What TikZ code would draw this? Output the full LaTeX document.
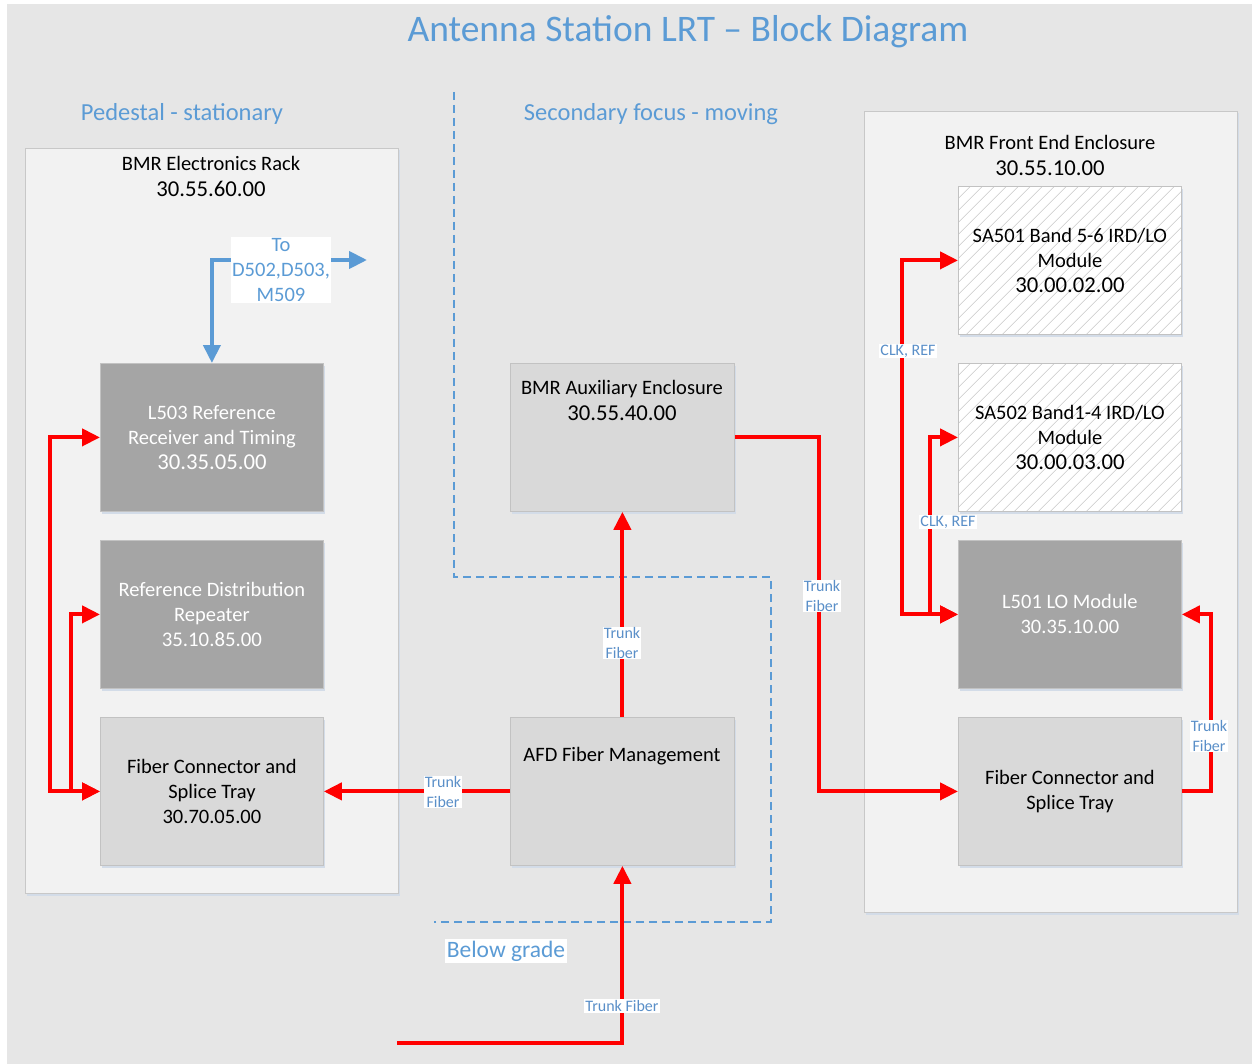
\documentclass[tikz,border=0pt]{standalone}
\usepackage{fontspec}
\setmainfont{Carlito}
\usetikzlibrary{arrows.meta,shadows}
\definecolor{bgc}{HTML}{E6E6E6}
\definecolor{contc}{HTML}{F2F2F2}
\definecolor{contb}{HTML}{C8C8C8}
\definecolor{darkc}{HTML}{A5A5A5}
\definecolor{lightc}{HTML}{D9D9D9}
\definecolor{boxb}{HTML}{C2C2C2}
\definecolor{shc}{HTML}{D3DCE8}
\definecolor{bluec}{HTML}{5B9BD5}
\definecolor{lblc}{HTML}{5A8FC8}
\definecolor{hatchc}{HTML}{C8C8C8}
\begin{document}
\begin{tikzpicture}[x=1pt,y=-1pt,
  shad/.style={drop shadow={shadow xshift=2pt,shadow yshift=-2.5pt,fill=shc,opacity=1}},
  container/.style={draw=contb,line width=0.8pt,fill=contc,shad},
  blockbox/.style={draw=boxb,line width=0.8pt,minimum width=223pt,minimum height=148pt,anchor=north west,inner sep=0pt,align=center,font=\fontsize{20.5}{25}\selectfont,shad},
  darkbox/.style={blockbox,fill=darkc,text=white},
  lightbox/.style={blockbox,fill=lightc,text=black},
  hatchbox/.style={blockbox,fill=white,text=black,path picture={
      \foreach \d in {-160,-148,...,240}
        \draw[hatchc,line width=0.6pt] ([xshift=\d pt]path picture bounding box.south west) -- ++(160pt,160pt);}},
  rline/.style={draw=red,line width=4pt},
  rarrow/.style={rline,-{Triangle[length=18pt,width=17pt]}},
  rboth/.style={rline,{Triangle[length=18pt,width=17pt]}-{Triangle[length=18pt,width=17pt]}},
  bboth/.style={draw=bluec,line width=4pt,{Triangle[length=18pt,width=17pt]}-{Triangle[length=18pt,width=17pt]}},
  region/.style={draw=bluec,line width=2pt,dash pattern=on 8pt off 5pt},
  lbl/.style={fill=white,text=lblc,inner sep=1pt,align=center,font=\fontsize{16}{19.5}\selectfont},
  heading/.style={text=bluec,inner sep=0pt,font=\fontsize{24.5}{30}\selectfont},
  ctitle/.style={align=center,inner sep=0pt,font=\fontsize{20.5}{26}\selectfont}
]
\useasboundingbox (0,0) rectangle (1252,1064);
\fill[bgc] (7,4) rectangle (1252,1064);

% headings
\node[heading,font=\fontsize{37.5}{42}\selectfont] (title) at (688,32) {Antenna Station LRT – Block Diagram};
\node[heading] (ped) at (182,114) {Pedestal - stationary};
\node[heading] (sec) at (651,114) {Secondary focus - moving};

% region boundary
\draw[region] (454,92) -- (454,577) -- (771,577) -- (771,922) -- (434,922);
\node[heading,fill=white,inner sep=2pt,font=\fontsize{23.5}{28}\selectfont] (below) at (506,951) {Below grade};

% containers
\path[container] (25,148) rectangle (398,893);
\path[container] (864,111) rectangle (1237,912);
\node[ctitle] (rackt) at (211,176) {BMR Electronics Rack\\{\fontsize{22.7}{26}\selectfont 30.55.60.00}};
\node[ctitle] (fet) at (1050,155) {BMR Front End Enclosure\\{\fontsize{22.7}{26}\selectfont 30.55.10.00}};

% blocks
\node[darkbox] (l503) at (100,363) {L503 Reference\\Receiver and Timing\\{\fontsize{22.7}{25}\selectfont 30.35.05.00}};
\node[darkbox] (refd) at (100,540) {Reference Distribution\\Repeater\\{\fontsize{20.8}{25}\selectfont 35.10.85.00}};
\node[lightbox] (fibL) at (100,717) {Fiber Connector and\\Splice Tray\\30.70.05.00};
\node[lightbox,minimum width=224pt] (aux) at (510,363) {};
\node[ctitle,font=\fontsize{20.5}{26}\selectfont] (auxt) at (622,400) {BMR Auxiliary Enclosure\\{\fontsize{22.7}{26}\selectfont 30.55.40.00}};
\node[lightbox,minimum width=224pt] (afd) at (510,717) {};
\node[ctitle] (afdt) at (622,756) {AFD Fiber Management};
\node[hatchbox] (sa501) at (958,186) {SA501 Band 5-6 IRD/LO\\Module\\{\fontsize{22.7}{25}\selectfont 30.00.02.00}};
\node[hatchbox] (sa502) at (958,363) {SA502 Band1-4 IRD/LO\\Module\\{\fontsize{22.7}{25}\selectfont 30.00.03.00}};
\node[darkbox] (l501) at (958,540) {L501 LO Module\\30.35.10.00};
\node[lightbox] (fibR) at (958,717) {Fiber Connector and\\Splice Tray};

% connectors
\coordinate (tgt) at (367,260);
\coordinate (bstart) at (397,1043);
\draw[bboth] (l503.north) |- (tgt);
\draw[rboth] (l503.west) -- ++(-50,0) |- (fibL.west);
\draw[rboth] (refd.west) -- ++(-29,0) |- (fibL.west);
\draw[rarrow] (afd.west) -- (fibL.east);
\draw[rarrow] (afd.north) -- (aux.south);
\draw[rarrow] (aux.east) -- ++(84,0) |- (fibR.west);
\draw[rarrow] (fibR.east) -- ++(29,0) |- (l501.east);
\draw[rboth] (l501.west) -- ++(-56,0) |- (sa501.west);
\draw[rboth] (l501.west) -- ++(-28,0) |- (sa502.west);
\draw[rarrow] (bstart) -| (afd.south);

% labels
\node[lbl,text=bluec,font=\fontsize{20.5}{25}\selectfont] (tolbl) at (281,270) {To\\D502,D503,\\M509};
\node[lbl] (t1) at (443,792) {Trunk\\Fiber};
\node[lbl] (t2) at (622,643) {Trunk\\Fiber};
\node[lbl] (t3) at (822,596) {Trunk\\Fiber};
\node[lbl] (t4) at (1209,736) {Trunk\\Fiber};
\node[lbl] (t5) at (622,1006) {Trunk Fiber};
\node[lbl] (c1) at (908,351) {CLK, REF};
\node[lbl] (c2) at (948,522) {CLK, REF};
\end{tikzpicture}
\end{document}
